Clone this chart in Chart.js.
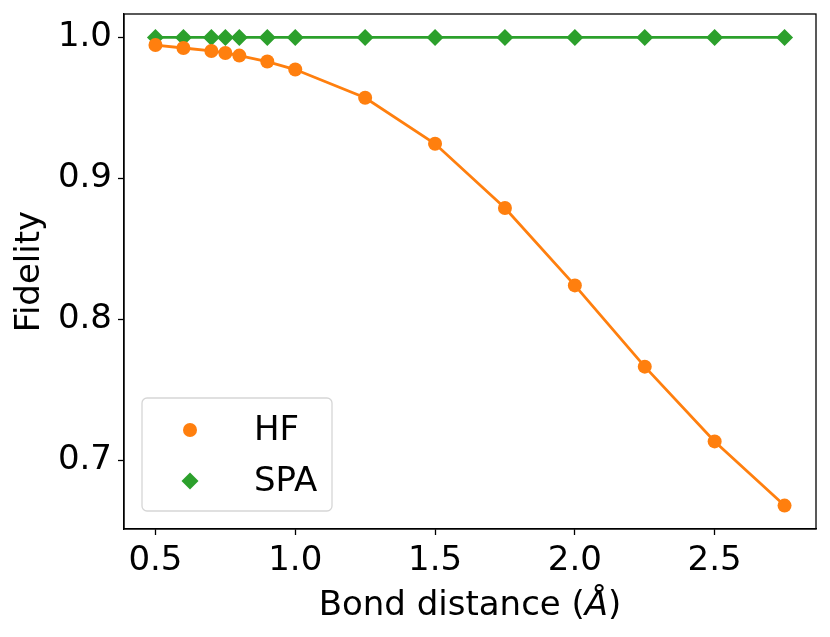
<!DOCTYPE html>
<html>
<head>
<meta charset="utf-8">
<script src="https://cdn.jsdelivr.net/npm/chart.js@4/dist/chart.umd.min.js"></script>
<style>
  html, body { margin: 0; padding: 0; background: #fff; }
  canvas { display: block; }
</style>
</head>
<body>
<canvas id="fidelityChart" width="830" height="637"></canvas>
<script>
// bond distances (Å) and fidelities
const distances = [0.5, 0.6, 0.7, 0.75, 0.8, 0.9, 1.0, 1.25, 1.5, 1.75, 2.0, 2.25, 2.5, 2.75];
const hfFidelity = [0.9946, 0.9925, 0.9904, 0.989, 0.9871, 0.9829, 0.9772, 0.9572, 0.9246, 0.8791, 0.8242, 0.7666, 0.7136, 0.6681];
const spaFidelity = [1, 1, 1, 1, 1, 1, 1, 1, 1, 1, 1, 1, 1, 1];
const xTicks = [0.5, 1.0, 1.5, 2.0, 2.5];
const yTicks = [0.7, 0.8, 0.9, 1.0];

const FONT = 'DejaVu Sans';
const FS = 34;
const toPoints = (ys) => distances.map((x, i) => ({ x: x, y: ys[i] }));

// matplotlib-like 5% margins
const xMin = Math.min(...distances), xMax = Math.max(...distances);
const allY = hfFidelity.concat(spaFidelity);
const yMin = Math.min(...allY), yMax = Math.max(...allY);
const xPad = (xMax - xMin) * 0.05, yPad = (yMax - yMin) * 0.05;

// frame around the axes (top/right spines)
const framePlugin = {
  id: 'frame',
  afterDraw(chart) {
    const { ctx, chartArea: a } = chart;
    ctx.save();
    ctx.strokeStyle = '#000';
    ctx.lineWidth = 1.3;
    ctx.strokeRect(a.left, a.top, a.right - a.left, a.bottom - a.top);
    ctx.restore();
  }
};

// x axis title with an italic Å, as mathtext renders it
const xTitlePlugin = {
  id: 'xTitle',
  afterDraw(chart) {
    const { ctx, chartArea: a } = chart;
    const parts = [['Bond distance (', ''], ['Å', 'italic '], [')', '']];
    ctx.save();
    ctx.fillStyle = '#000';
    ctx.textBaseline = 'alphabetic';
    let total = 0;
    parts.forEach(p => { ctx.font = p[1] + FS + 'px "' + FONT + '"'; total += ctx.measureText(p[0]).width; });
    let x = (a.left + a.right) / 2 - total / 2;
    parts.forEach(p => {
      ctx.font = p[1] + FS + 'px "' + FONT + '"';
      ctx.fillText(p[0], x, a.bottom + 86);
      x += ctx.measureText(p[0]).width;
    });
    ctx.restore();
  }
};

// legend box in the lower left, drawn like matplotlib's
const legendPlugin = {
  id: 'mplLegend',
  afterDraw(chart) {
    const { ctx, chartArea: a } = chart;
    const left = a.left + 18, w = 190, h = 113;
    const top = a.bottom - 18 - h;
    ctx.save();
    ctx.fillStyle = 'rgba(255,255,255,0.8)';
    ctx.strokeStyle = '#d6d6d6';
    ctx.lineWidth = 1.3;
    ctx.beginPath();
    ctx.roundRect(left, top, w, h, 5);
    ctx.fill();
    ctx.stroke();
    chart.data.datasets.forEach((ds, i) => {
      const cy = top + 32 + i * 51;
      ctx.fillStyle = ds.pointBackgroundColor;
      ctx.strokeStyle = ds.pointBackgroundColor;
      Chart.helpers.drawPoint(ctx, {
        pointStyle: ds.pointStyle,
        radius: ds.pointRadius,
        borderWidth: 0
      }, left + 48, cy);
      ctx.fillStyle = '#000';
      ctx.font = FS + 'px "' + FONT + '"';
      ctx.textBaseline = 'middle';
      ctx.fillText(ds.label, left + 112, cy + 1);
    });
    ctx.restore();
  }
};

new Chart(document.getElementById('fidelityChart'), {
  type: 'scatter',
  data: {
    datasets: [
      {
        label: 'HF',
        data: toPoints(hfFidelity),
        showLine: true,
        borderColor: '#ff7f0e',
        backgroundColor: '#ff7f0e',
        pointBackgroundColor: '#ff7f0e',
        pointBorderWidth: 0,
        pointStyle: 'circle',
        pointRadius: 7,
        borderWidth: 2.8
      },
      {
        label: 'SPA',
        data: toPoints(spaFidelity),
        showLine: true,
        borderColor: '#2ca02c',
        backgroundColor: '#2ca02c',
        pointBackgroundColor: '#2ca02c',
        pointBorderWidth: 0,
        pointStyle: 'rectRot',
        pointRadius: 8.5,
        borderWidth: 2.8
      }
    ]
  },
  options: {
    responsive: false,
    animation: false,
    devicePixelRatio: 1,
    layout: { padding: { left: 0, top: 14, right: 14, bottom: 0 } },
    plugins: { legend: { display: false }, tooltip: { enabled: false } },
    scales: {
      x: {
        type: 'linear',
        min: xMin - xPad,
        max: xMax + xPad,
        afterBuildTicks: (s) => { s.ticks = xTicks.map(v => ({ value: v })); },
        afterFit: (s) => { s.height = 108; s.paddingLeft = 0; s.paddingRight = 0; },
        grid: { drawOnChartArea: false, tickLength: 6, tickColor: '#000', tickWidth: 1.3 },
        border: { display: true, color: '#000', width: 1.3 },
        ticks: {
          color: '#000', padding: 6, maxRotation: 0,
          font: { family: FONT, size: FS },
          callback: (v) => v.toFixed(1)
        },
        title: { display: false }
      },
      y: {
        type: 'linear',
        min: yMin - yPad,
        max: yMax + yPad,
        afterBuildTicks: (s) => { s.ticks = yTicks.map(v => ({ value: v })); },
        afterFit: (s) => { s.width = 124; s.paddingTop = 0; s.paddingBottom = 0; },
        grid: { drawOnChartArea: false, tickLength: 6, tickColor: '#000', tickWidth: 1.3 },
        border: { display: true, color: '#000', width: 1.3 },
        ticks: {
          color: '#000', padding: 6,
          font: { family: FONT, size: FS },
          callback: (v) => v.toFixed(1)
        },
        title: {
          display: true, text: 'Fidelity', color: '#000',
          font: { family: FONT, size: FS }, padding: { top: 10, bottom: 0 }
        }
      }
    }
  },
  plugins: [framePlugin, xTitlePlugin, legendPlugin]
});
</script>
</body>
</html>
